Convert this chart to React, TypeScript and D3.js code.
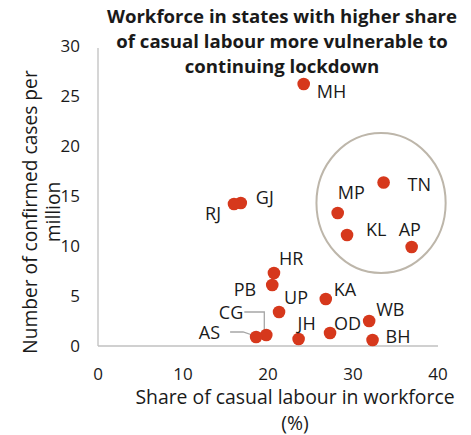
import React from "react";
import * as d3 from "d3";

const states = ["MH", "GJ", "RJ", "TN", "MP", "KL", "AP", "HR", "PB", "UP", "KA", "CG", "AS", "JH", "OD", "WB", "BH"];
const casualShare = [24.2, 16.8, 16.0, 33.6, 28.2, 29.3, 36.9, 20.7, 20.5, 21.3, 26.8, 19.8, 18.6, 23.6, 27.3, 31.9, 32.3];
const casesPerMillion = [26.2, 14.3, 14.2, 16.35, 13.3, 11.1, 9.9, 7.3, 6.1, 3.4, 4.7, 1.1, 0.9, 0.7, 1.3, 2.5, 0.6];
const xTicks = [0, 10, 20, 30, 40];
const yTicks = [0, 5, 10, 15, 20, 25, 30];
const titleLines = ["Workforce in states with higher share", "of casual labour more vulnerable to", "continuing lockdown"];
const xTitleLines = ["Share of casual labour in workforce", "(%)"];
const yTitleLines = ["Number of confirmed cases per", "million"];

// label placement (pixels relative to point): dx, dy, anchor
const labelPos: Record<string, [number, number, string]> = {
  MH: [13, 14, "start"],
  GJ: [15, 1, "start"],
  RJ: [-13, 16, "end"],
  TN: [24, 8, "start"],
  MP: [0, -14, "start"],
  KL: [19, 1, "start"],
  AP: [-13, -11, "start"],
  HR: [5, -8, "start"],
  PB: [-16, 11, "end"],
  UP: [5, -8, "start"],
  KA: [8, -3, "start"],
  CG: [-23, -16, "end"],
  AS: [-36, 2, "end"],
  JH: [-1, -9, "start"],
  OD: [4, -3, "start"],
  WB: [7, -5, "start"],
  BH: [13, 3, "start"],
};

export default function App() {
  const W = 471, H = 435;
  const x = d3.scaleLinear().domain([0, 40]).range([98, 438]);
  const y = d3.scaleLinear().domain([0, 30]).range([346, 46]);
  const font = "'Open Sans', sans-serif";
  const textColor = "#1a1a1a";
  const axisColor = "#c0c0c0";
  const dotColor = "#d6381c";

  const pts = states.map((s, i) => ({ s, px: x(casualShare[i]), py: y(casesPerMillion[i]) }));
  const byName: Record<string, { px: number; py: number }> = {};
  pts.forEach((p) => (byName[p.s] = p));
  const cg = byName["CG"], as = byName["AS"];

  // highlight ellipse around southern states
  const ecx = x(33.3), ecy = y(14.3);
  const erx = x(7.6) - x(0), ery = y(0) - y(7.0);

  return (
    <svg width={W} height={H} style={{ position: "absolute", left: 0, top: 0, background: "#fff" }} fontFamily={font}>
      {titleLines.map((t, i) => (
        <text key={t} x={282} y={23.3 + i * 24.7} textAnchor="middle" fontWeight="bold" fontSize={18.6} fill={textColor}>{t}</text>
      ))}
      <line x1={x(0)} x2={x(0)} y1={y(30) + 2} y2={y(0)} stroke={axisColor} strokeWidth={1.3} />
      <line x1={x(0)} x2={x(40)} y1={y(0)} y2={y(0)} stroke={axisColor} strokeWidth={1.3} />
      {yTicks.map((t) => (
        <text key={t} x={80} y={y(t)} dy="0.35em" textAnchor="end" fontSize={17} fill={textColor}>{t}</text>
      ))}
      {xTicks.map((t) => (
        <text key={t} x={x(t)} y={374} dy="0.35em" textAnchor="middle" fontSize={17} fill={textColor}>{t}</text>
      ))}
      {xTitleLines.map((t, i) => (
        <text key={t} x={295} y={397 + i * 26} dy="0.35em" textAnchor="middle" fontSize={19.4} fill={textColor}>{t}</text>
      ))}
      <g transform="translate(30,212) rotate(-90)">
        {yTitleLines.map((t, i) => (
          <text key={t} x={0} y={i * 23} dy="0.35em" textAnchor="middle" fontSize={19.2} fill={textColor}>{t}</text>
        ))}
      </g>
      <ellipse cx={ecx} cy={ecy} rx={erx} ry={ery} fill="none" stroke="#bdb6aa" strokeWidth={2} />
      <polyline points={`${cg.px - 22},${cg.py - 23} ${cg.px - 2},${cg.py - 23} ${cg.px - 2},${cg.py - 2}`} fill="none" stroke="#a6a6a6" strokeWidth={1.3} />
      <polyline points={`${as.px - 26},${as.py - 5} ${as.px - 13},${as.py - 5} ${as.px - 1},${as.py - 1}`} fill="none" stroke="#a6a6a6" strokeWidth={1.3} />
      {pts.map((p) => (
        <circle key={p.s} cx={p.px} cy={p.py} r={6.3} fill={dotColor} />
      ))}
      {pts.map((p) => {
        const [dx, dy, anchor] = labelPos[p.s];
        return (
          <text key={p.s + "l"} x={p.px + dx} y={p.py + dy} textAnchor={anchor as any} fontSize={18} fill={textColor}>{p.s}</text>
        );
      })}
    </svg>
  );
}
